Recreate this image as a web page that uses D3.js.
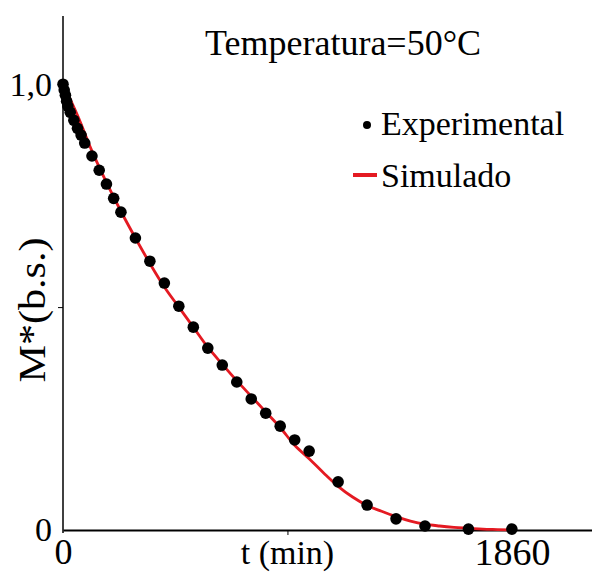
<!DOCTYPE html>
<html>
<head>
<meta charset="utf-8">
<script src="https://cdn.jsdelivr.net/npm/d3@7"></script>
<style>
  html, body { margin: 0; padding: 0; background: #fff; }
  svg { display: block; }
</style>
</head>
<body>
<svg id="chart" width="592" height="572"></svg>
<script>
// experimental points (t in min, M* dry basis)
const expT = [0, 5, 10, 15, 20, 30, 45, 60, 75, 90, 120, 150, 180, 210, 240,
  300, 360, 420, 480, 540, 600, 660, 720, 780, 840, 900, 960, 1020,
  1140, 1260, 1380, 1500, 1680, 1860];
const expM = [1.0, 0.987, 0.975, 0.962, 0.951, 0.937, 0.919, 0.901, 0.886, 0.868, 0.839, 0.807, 0.776, 0.744, 0.713,
  0.655, 0.603, 0.554, 0.502, 0.455, 0.408, 0.37, 0.332, 0.294, 0.262, 0.233, 0.202, 0.177,
  0.108, 0.056, 0.025, 0.009, 0.002, 0.002];

// simulated curve
const simT = [0, 60, 120, 180, 240, 300, 360, 420, 480, 540, 600, 660, 720, 780, 840, 900,
  960, 1020, 1080, 1140, 1200, 1260, 1320, 1380, 1440, 1500, 1560, 1620, 1680, 1740, 1800, 1860];
const simM = [1.0, 0.93, 0.85, 0.78, 0.715, 0.655, 0.598, 0.545, 0.5, 0.455, 0.41, 0.372, 0.335, 0.3, 0.265, 0.23,
  0.19, 0.16, 0.128, 0.098, 0.074, 0.055, 0.042, 0.03, 0.02, 0.013, 0.009, 0.006, 0.004, 0.002, 0.001, 0];

const xTicks = [0, 930, 1860];
const xTickLabels = ["0", "", "1860"];
const yTicks = [0, 0.5, 1];
const yTickLabels = ["0", "", "1,0"];

const svg = d3.select("#chart");
const font = "'Liberation Serif', 'Times New Roman', serif";
const red = "#e41a22";

const x = d3.scaleLinear().domain([0, 2192]).range([63, 592]);
const y = d3.scaleLinear().domain([0, 1.153]).range([530, 16]);

// axes
const xAxis = svg.append("g")
  .attr("transform", `translate(0,${y(0)})`)
  .call(d3.axisBottom(x)
    .tickValues(xTicks)
    .tickFormat((d, i) => xTickLabels[i])
    .tickSizeOuter(0)
    .tickSizeInner(5)
    .tickPadding(3));
xAxis.select(".domain").attr("stroke", "#000").attr("stroke-width", 2);
xAxis.selectAll(".tick line").attr("stroke-width", 1)
  .attr("y2", (d) => (d === 930 ? 5 : 0));
xAxis.selectAll(".tick text")
  .attr("font-family", font)
  .attr("font-size", (d) => (d === 1860 ? 38 : 36))
  .attr("fill", "#000");

const yAxis = svg.append("g")
  .attr("transform", `translate(${x(0)},0)`)
  .call(d3.axisLeft(y)
    .tickValues(yTicks)
    .tickFormat((d, i) => yTickLabels[i])
    .tickSizeOuter(0)
    .tickSizeInner(5)
    .tickPadding(6));
yAxis.select(".domain").attr("stroke", "#000").attr("stroke-width", 1.5)
  .attr("d", `M0,${y(0) + 3}V${y.range()[1]}`);
yAxis.selectAll(".tick line").attr("stroke-width", 1)
  .attr("x2", (d) => (d === 0.5 ? -5 : 0));
yAxis.selectAll(".tick text")
  .attr("font-family", font)
  .attr("font-size", 34)
  .attr("fill", "#000");

// simulated line
const line = d3.line()
  .x((d, i) => x(simT[i]))
  .y((d) => y(d))
  .curve(d3.curveMonotoneX);

svg.append("path")
  .datum(simM)
  .attr("d", line)
  .attr("fill", "none")
  .attr("stroke", red)
  .attr("stroke-width", 2.8);

// experimental dots
svg.append("g")
  .selectAll("circle")
  .data(expM)
  .join("circle")
  .attr("cx", (d, i) => x(expT[i]))
  .attr("cy", (d) => y(d))
  .attr("r", 5.8)
  .attr("fill", "#000");

// title
svg.append("text")
  .attr("x", 205)
  .attr("y", 55)
  .attr("font-family", font)
  .attr("font-size", 36)
  .text("Temperatura=50°C");

// legend
svg.append("circle").attr("cx", 367).attr("cy", 125).attr("r", 4).attr("fill", "#000");
svg.append("text")
  .attr("x", 381).attr("y", 135)
  .attr("font-family", font).attr("font-size", 34)
  .text("Experimental");
svg.append("line")
  .attr("x1", 353).attr("x2", 377).attr("y1", 175).attr("y2", 175)
  .attr("stroke", red).attr("stroke-width", 4);
svg.append("text")
  .attr("x", 381).attr("y", 187)
  .attr("font-family", font).attr("font-size", 34)
  .text("Simulado");

// axis titles
svg.append("text")
  .attr("x", x(930))
  .attr("y", 564)
  .attr("text-anchor", "middle")
  .attr("font-family", font)
  .attr("font-size", 34)
  .text("t (min)");

svg.append("text")
  .attr("transform", `translate(45,${310}) rotate(-90)`)
  .attr("text-anchor", "middle")
  .attr("font-family", font)
  .attr("font-size", 38)
  .attr("textLength", 145)
  .attr("lengthAdjust", "spacingAndGlyphs")
  .text("M*(b.s.)");
</script>
</body>
</html>
